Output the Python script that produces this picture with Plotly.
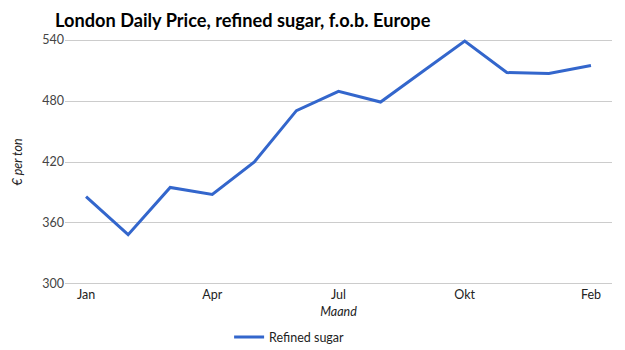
import plotly.graph_objects as go

months = ["Jan", "Feb", "Mrt", "Apr", "Mei", "Jun", "Jul", "Aug", "Sep", "Okt", "Nov", "Dec", "Feb"]
values = [386, 348.5, 395, 388, 420, 470.5, 489.5, 479, 509, 539, 508, 507, 515]
tick_idx = [0, 3, 6, 9, 12]
tick_labels = ["Jan", "Apr", "Jul", "Okt", "Feb"]
y_ticks = [300, 360, 420, 480, 540]

x = list(range(len(months)))

fig = go.Figure()
fig.add_trace(go.Scatter(
    x=x, y=values, mode="lines", name="Refined sugar",
    line=dict(color="#3366cc", width=3),
    customdata=months, hovertemplate="%{customdata}: %{y}<extra></extra>",
))

font_family = "Lato, 'Open Sans', sans-serif"
fig.update_layout(
    width=625, height=350,
    margin=dict(l=65, r=13, t=39, b=65, autoexpand=False),
    paper_bgcolor="white", plot_bgcolor="white",
    font=dict(family=font_family, size=12, color="#444444"),
    title=dict(text="<b>London Daily Price, refined sugar, f.o.b. Europe</b>",
               x=0.088, xanchor="left", y=0.94, yanchor="middle",
               font=dict(size=18.2, color="#000000", family=font_family)),
    showlegend=True,
    legend=dict(orientation="h", x=0.30, xanchor="left", y=-0.213, yanchor="middle",
                font=dict(size=12.5, color="#222222")),
    xaxis=dict(range=[-0.5, 12.5], tickvals=tick_idx, ticktext=tick_labels,
               showgrid=False, zeroline=False, showline=False, ticks="",
               title=dict(text="<i>Maand</i>", standoff=6, font=dict(size=12.5, color="#222222")),
               tickfont=dict(size=12.5, color="#222222")),
    yaxis=dict(range=[299, 541], tickvals=y_ticks, showgrid=True, gridcolor="#cccccc",
               zeroline=False, showline=False, ticks="",
               title=dict(text="<i>€ per ton</i>", standoff=16, font=dict(size=12.5, color="#222222")),
               tickfont=dict(size=12.5, color="#444444")),
)

fig.write_html("out.html")
